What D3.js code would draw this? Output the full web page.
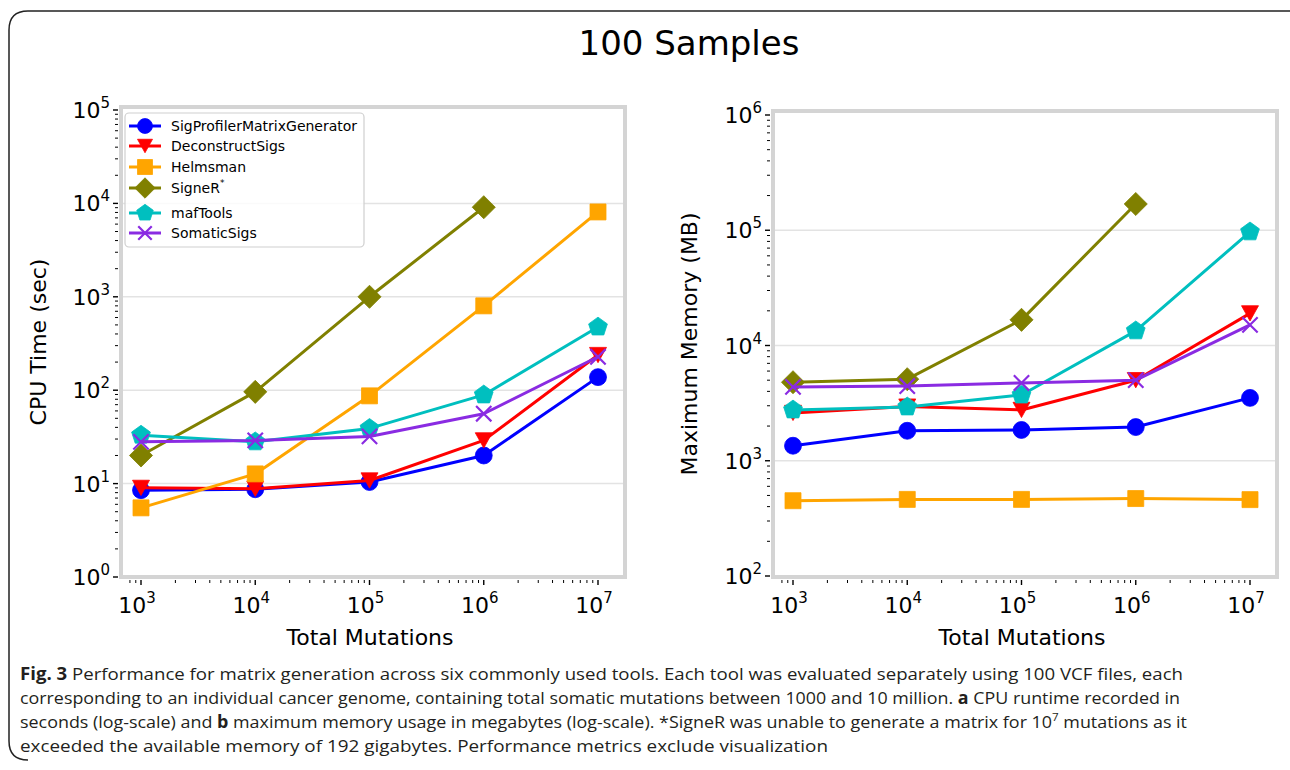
<!DOCTYPE html>
<html><head><meta charset="utf-8">
<script src="https://cdn.jsdelivr.net/npm/d3@7"></script>
<style>
body{margin:0;background:#fff;}
svg{display:block;}
</style></head>
<body>
<svg id="c" width="1290" height="770"></svg>
<script>
// ---- data ----
const mutations = [1e3, 1e4, 1e5, 1e6, 1e7];
const tools = ["SigProfilerMatrixGenerator","DeconstructSigs","Helmsman","SigneR","mafTools","SomaticSigs"];
const colors = ["#0000ff","#ff0000","#ffa500","#808000","#00bfbf","#8a2be2"];
const markers = ["circle","triangle","square","diamond","pentagon","x"];
// CPU time (sec)
const cpuSigProfiler = [8.5, 8.7, 10.4, 20, 138];
const cpuDeconstruct = [9.0, 8.8, 10.8, 29, 238];
const cpuHelmsman = [5.5, 12.7, 87, 800, 8100];
const cpuSigneR = [20, 96, 1000, 9100];
const cpuMafTools = [33, 28, 39, 89, 475];
const cpuSomaticSigs = [28, 29, 32, 56, 228];
// Maximum memory (MB)
const memSigProfiler = [1350, 1820, 1850, 1960, 3510];
const memDeconstruct = [2600, 2950, 2760, 5000, 19000];
const memHelmsman = [450, 462, 462, 470, 460];
const memSigneR = [4800, 5100, 16700, 169000];
const memMafTools = [2760, 2930, 3720, 13400, 96800];
const memSomaticSigs = [4370, 4450, 4730, 5000, 15100];
const cpuTicks = [0,1,2,3,4,5];
const memTicks = [2,3,4,5,6];
const xTicks = [3,4,5,6,7];

const svg = d3.select("#c");
const FONT = "DejaVu Sans, sans-serif";

// outer border
svg.append("path")
  .attr("d","M 1300 11 H 28 Q 9 11 9 30 V 741 Q 9 760 28 760")
  .attr("fill","none").attr("stroke","#222").attr("stroke-width",1.5);

svg.append("text").attr("x",689).attr("y",55).attr("text-anchor","middle")
  .attr("font-family",FONT).attr("font-size",34).attr("fill","#000").text("100 Samples");

function markerPath(type, size){
  const s = size;
  switch(type){
    case "circle": return d3.symbol(d3.symbolCircle, s*s*0.78)();
    case "square": return `M${-s/2},${-s/2}H${s/2}V${s/2}H${-s/2}Z`;
    case "triangle": { const h=s*0.9; return `M${-s/2},${-h/2}L${s/2},${-h/2}L0,${h/2}Z`; }
    case "diamond": { const r=s*0.68; return `M0,${-r}L${r},0L0,${r}L${-r},0Z`; }
    case "pentagon": { const r=s*0.58; let p=[]; for(let i=0;i<5;i++){const a=-Math.PI/2+i*2*Math.PI/5; p.push([r*Math.cos(a), r*Math.sin(a)]);} return "M"+p.map(q=>q.join(",")).join("L")+"Z"; }
    case "x": { const r=s*0.45; return `M${-r},${-r}L${r},${r}M${-r},${r}L${r},${-r}`; }
  }
}
function drawMarker(g, type, color, x, y, size){
  const p = g.append("path").attr("d", markerPath(type,size)).attr("transform",`translate(${x},${y})`);
  if(type==="x") p.attr("fill","none").attr("stroke",color).attr("stroke-width",2.2);
  else p.attr("fill",color).attr("stroke",color).attr("stroke-width",0.8);
}

function powLabel(g, x, y, exp, anchor){
  const t = g.append("text").attr("x",x).attr("y",y).attr("text-anchor",anchor)
    .attr("font-family",FONT).attr("font-size",22).attr("fill","#000");
  t.append("tspan").text("10");
  t.append("tspan").attr("font-size",15).attr("dy",-10).text(String(exp));
}

function panel(cfg){
  const g = svg.append("g");
  const x = d3.scaleLog().domain([1e3,1e7]).range(cfg.xr);
  const y = d3.scaleLog().domain(cfg.yd).range(cfg.yr);
  const [fx0,fx1] = cfg.fx, [fy0,fy1] = cfg.fy;
  // gridlines
  cfg.yTicks.forEach(e=>{
    const v = Math.pow(10,e);
    const yy = y(v);
    if(yy>fy0+4 && yy<fy1-4)
      g.append("line").attr("x1",fx0).attr("x2",fx1).attr("y1",yy).attr("y2",yy)
       .attr("stroke","#e3e3e3").attr("stroke-width",1.5);
  });
  // frame
  g.append("rect").attr("x",fx0).attr("y",fy0).attr("width",fx1-fx0).attr("height",fy1-fy0)
    .attr("fill","none").attr("stroke","#d4d4d4").attr("stroke-width",4);
  // y ticks
  const yMin = Math.log10(cfg.yd[0]), yMax=Math.log10(cfg.yd[1]);
  for(let e=yMin;e<=yMax;e++){
    const yy=y(Math.pow(10,e));
    g.append("line").attr("x1",fx0-8).attr("x2",fx0-3).attr("y1",yy).attr("y2",yy).attr("stroke","#000").attr("stroke-width",1.4);
    if(e<yMax) for(let m=2;m<=9;m++){
      const ym=y(m*Math.pow(10,e));
      g.append("line").attr("x1",fx0-6).attr("x2",fx0-3).attr("y1",ym).attr("y2",ym).attr("stroke","#000").attr("stroke-width",1);
    }
  }
  cfg.yTicks.forEach(e=> powLabel(g, fx0-11, y(Math.pow(10,e))+8, e, "end"));
  // x ticks
  const xd0 = x.invert(fx0+3), xd1 = x.invert(fx1-3);
  for(let e=2;e<=7;e++){
    for(let m=1;m<=9;m++){
      const v=m*Math.pow(10,e);
      if(v<xd0||v>xd1) continue;
      const xx=x(v);
      g.append("line").attr("x1",xx).attr("x2",xx).attr("y1",fy1+3).attr("y2",fy1+(m===1?8:6))
        .attr("stroke","#000").attr("stroke-width",m===1?1.4:1);
    }
  }
  xTicks.forEach(e=> powLabel(g, x(Math.pow(10,e))-4, 613, e, "middle"));
  // axis titles
  g.append("text").attr("x",(fx0+fx1)/2-3).attr("y",645).attr("text-anchor","middle")
    .attr("font-family",FONT).attr("font-size",22).text("Total Mutations");
  g.append("text").attr("transform",`translate(${cfg.ylx},${(fy0+fy1)/2}) rotate(-90)`).attr("text-anchor","middle")
    .attr("font-family",FONT).attr("font-size",22).text(cfg.ylabel);
  // series
  const line = d3.line().x((d,i)=>x(mutations[i])).y(d=>y(d));
  cfg.series.forEach((s,k)=>{
    g.append("path").attr("d",line(s)).attr("fill","none").attr("stroke",colors[k]).attr("stroke-width",3)
      .attr("stroke-linejoin","round");
    s.forEach((v,i)=> drawMarker(g, markers[k], colors[k], x(mutations[i]), y(v), cfg.ms[k]));
  });
  return g;
}

const msizes = [17,17,16,17,17,17];
panel({xr:[141,598], yd:[1,1e5], yr:[577,110], fx:[121,625], fy:[107,577], yTicks:cpuTicks,
  ylabel:"CPU Time (sec)", ylx:46, ms:msizes,
  series:[cpuSigProfiler,cpuDeconstruct,cpuHelmsman,cpuSigneR,cpuMafTools,cpuSomaticSigs]});
panel({xr:[793,1250], yd:[100,1e6], yr:[576,115], fx:[773,1277], fy:[111,577], yTicks:memTicks,
  ylabel:"Maximum Memory (MB)", ylx:697, ms:msizes,
  series:[memSigProfiler,memDeconstruct,memHelmsman,memSigneR,memMafTools,memSomaticSigs]});

// legend
const lg = svg.append("g");
lg.append("rect").attr("x",125).attr("y",113).attr("width",239).attr("height",134).attr("rx",4)
  .attr("fill","#fff").attr("fill-opacity",0.8).attr("stroke","#cfcfcf").attr("stroke-width",1.2);
const rowY = [126,146,167,188,213,233];
tools.forEach((t,k)=>{
  const yy=rowY[k];
  lg.append("line").attr("x1",129).attr("x2",161).attr("y1",yy).attr("y2",yy).attr("stroke",colors[k]).attr("stroke-width",3);
  drawMarker(lg, markers[k], colors[k], 145, yy, 15);
  const tx = lg.append("text").attr("x",171).attr("y",yy+5).attr("font-family",FONT).attr("font-size",14).attr("fill","#000");
  tx.append("tspan").text(t);
  if(t==="SigneR") tx.append("tspan").attr("font-size",9).attr("dy",-7).text("*");
});

// caption
const CF = "'Liberation Sans Narrow', 'Open Sans', sans-serif";
const cap = [
  {y:680, w:1163, parts:[["Fig. 3",true],[" Performance for matrix generation across six commonly used tools. Each tool was evaluated separately using 100 VCF files, each",false]]},
  {y:704, w:1160, parts:[["corresponding to an individual cancer genome, containing total somatic mutations between 1000 and 10 million. ",false],["a",true],[" CPU runtime recorded in",false]]},
  {y:728, w:1167, parts:[["seconds (log-scale) and ",false],["b",true],[" maximum memory usage in megabytes (log-scale). *SigneR was unable to generate a matrix for 10",false],["7",false,"sup"],[" mutations as it",false]]},
  {y:752, w:808, parts:[["exceeded the available memory of 192 gigabytes. Performance metrics exclude visualization",false]]}
];
cap.forEach(l=>{
  const t = svg.append("text").attr("x",20).attr("y",l.y).attr("font-family",CF).attr("font-size",17)
    .attr("fill","#231f20").attr("textLength",l.w).attr("lengthAdjust","spacingAndGlyphs");
  l.parts.forEach((p,i)=>{
    const ts = t.append("tspan").text(p[0]);
    if(p[1]) ts.attr("font-weight","bold");
    if(p[2]==="sup") { ts.attr("font-size",11).attr("dy",-7); }
    else if(i>0 && l.parts[i-1][2]==="sup") ts.attr("dy",7);
  });
});
</script>
</body></html>
